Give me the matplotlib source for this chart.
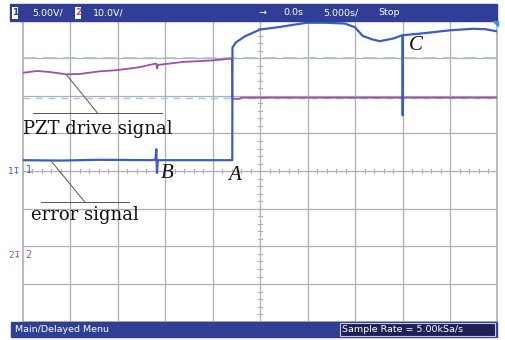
import matplotlib
matplotlib.use("Agg")
import matplotlib.pyplot as plt
from matplotlib.patches import Rectangle, Polygon

# ── scope settings ─────────────────────────────────────────
T_DIV = 5.0          # s / div, 10 divisions, centred on 0.0 s
N_XDIV, N_YDIV = 10, 8

# ── traces (time in s, level in screen divisions from centre) ─
err_t = [-25.0, -21.1, -16.9, -11.6, -11.02, -10.93, -10.86, -10.77, -6.3,
         -2.93, -2.91, -2.54, -1.59, 0.0, 2.1, 4.9, 6.8, 8.9, 10.0, 10.8,
         11.8, 12.6, 14.0, 15.0, 15.02, 15.04, 16.8, 20.0, 22.4, 23.7, 25.0]
err_y = [0.29, 0.28, 0.30, 0.29, 0.30, 0.58, -0.05, 0.29, 0.29,
         0.29, 3.28, 3.42, 3.58, 3.76, 3.83, 3.94, 3.94, 3.92, 3.82, 3.59,
         3.50, 3.45, 3.52, 3.61, 1.48, 3.61, 3.65, 3.74, 3.78, 3.77, 3.71]

pzt_t = [-25.0, -23.5, -22.1, -20.4, -19.0, -16.9, -15.1, -12.7, -11.1,
         -10.91, -10.86, -10.75, -8.1, -5.0, -2.96, -2.93, -2.12, -2.01, 25.0]
pzt_y = [2.61, 2.66, 2.63, 2.57, 2.58, 2.65, 2.68, 2.76, 2.85,
         2.85, 2.73, 2.82, 2.90, 2.94, 2.99, 1.92, 1.92, 1.95, 1.95]

CURSOR_1 = 3.0
CURSOR_2 = 1.94

BLUE   = "#3B5CC6"
PURPLE = "#9E4FA8"
BAR    = "#313E96"
GRIDC  = "#AFAFAF"

W, H = 506, 340
fig = plt.figure(figsize=(W / 100, H / 100), dpi=100)
fig.patch.set_facecolor("white")

# grid area in pixels: x 22.7..497.5, y 20..321.7
gx0, gx1, gy0, gy1 = 22.7, 497.5, 20.5, 321.7
ax = fig.add_axes([gx0 / W, 1 - gy1 / H, (gx1 - gx0) / W, (gy1 - gy0) / H])
ax.set_xlim(-N_XDIV / 2 * T_DIV, N_XDIV / 2 * T_DIV)
ax.set_ylim(-N_YDIV / 2, N_YDIV / 2)
ax.set_xticks([])
ax.set_yticks([])
for s in ax.spines.values():
    s.set_color(GRIDC)
    s.set_linewidth(1.2)

for i in range(1, N_XDIV):
    ax.axvline(-25 + i * T_DIV, color=GRIDC, lw=0.9, zorder=1)
for j in range(1, N_YDIV):
    ax.axhline(-4 + j, color=GRIDC, lw=0.9, zorder=1)

# minor ticks on the centre cross
for k in range(-N_XDIV * 5 // 2, N_XDIV * 5 // 2 + 1):
    x = k * T_DIV / 5
    ax.plot([x, x], [-0.06, 0.06], color=GRIDC, lw=0.8, zorder=1)
for k in range(-N_YDIV * 5 // 2, N_YDIV * 5 // 2 + 1):
    y = k / 5
    ax.plot([-0.25, 0.25], [y, y], color=GRIDC, lw=0.8, zorder=1)

ax.axhline(CURSOR_1, color="#A9C2D8", lw=1.2, ls=(0, (8, 4)), zorder=2)
ax.axhline(CURSOR_2, color="#9CC6EE", lw=1.0, ls=(0, (5, 4)), zorder=2)

ax.plot(pzt_t, pzt_y, color=PURPLE, lw=1.3, zorder=3)
ax.plot(err_t, err_y, color=BLUE, lw=1.6, zorder=4)

# ── overlay in pixel coordinates for labels and bars ─────────
ov = fig.add_axes([0, 0, 1, 1], facecolor="none")
ov.set_xlim(0, W)
ov.set_ylim(H, 0)
ov.axis("off")

ov.add_patch(Rectangle((10, 4), 487, 17, color=BAR))
ov.add_patch(Rectangle((11, 322), 486, 15, color=BAR))
ov.add_patch(Rectangle((340, 323), 155, 13, facecolor="#1E2157",
                       edgecolor="#C8C8D8", lw=0.8))
# trigger marker, top right
ov.add_patch(Polygon([[493, 21], [498, 21], [498, 26]], color="#2E9BD6"))

hdr = dict(color="white", fontsize=6.8, va="center", family="DejaVu Sans")
ov.add_patch(Rectangle((12.5, 6.5), 5.5, 12, facecolor="white"))
ov.text(15.3, 12.5, "1", color=BAR, fontsize=6.5, ha="center", va="center",
        fontweight="bold")
ov.text(32, 12.5, "5.00V/", **hdr)
ov.add_patch(Rectangle((75.5, 6.5), 5.5, 12, facecolor="white"))
ov.text(78.3, 12.5, "2", color=PURPLE, fontsize=6.5, ha="center",
        va="center", fontweight="bold")
ov.text(93, 12.5, "10.0V/", **hdr)
ov.text(258, 12.5, "\u2192", **hdr)
ov.text(283, 12.5, "0.0s", **hdr)
ov.text(323, 12.5, "5.000s/", **hdr)
ov.text(378, 12.5, "Stop", **hdr)
ov.text(15, 329.5, "Main/Delayed Menu", **hdr)
ov.text(342, 329.5, "Sample Rate = 5.00kSa/s", **hdr)

# channel markers
ov.text(21, 171, "1\u21a7", color=BLUE, fontsize=6.5, ha="right", va="center")
ov.text(25.5, 170, "1", color=BLUE, fontsize=7, ha="left", va="center")
ov.text(21, 256, "2\u21a7", color=PURPLE, fontsize=6.5, ha="right", va="center")
ov.text(25.5, 255, "2", color=PURPLE, fontsize=7, ha="left", va="center")

serif = "DejaVu Serif"
ann = dict(color="#555555", lw=0.7)
ov.plot([33, 162], [113.3, 113.3], **ann)
ov.plot([66.7, 97.7], [75, 113.3], **ann)
ov.text(23, 129, "PZT drive signal", family=serif, fontsize=13,
        va="center", ha="left", color="#111111")
ov.plot([40.7, 129.3], [202.3, 202.3], **ann)
ov.plot([51.7, 85], [161.7, 202.3], **ann)
ov.text(31, 215, "error signal", family=serif, fontsize=13,
        va="center", ha="left", color="#111111")

lab = dict(family="Liberation Serif", style="italic", fontsize=15,
           ha="center", va="center", color="#111111")
ov.text(234.5, 175, "A", **lab)
ov.text(167, 174, "B", **lab)
ov.text(416, 46, "C", **lab)

fig.savefig("out.png", dpi=100)
